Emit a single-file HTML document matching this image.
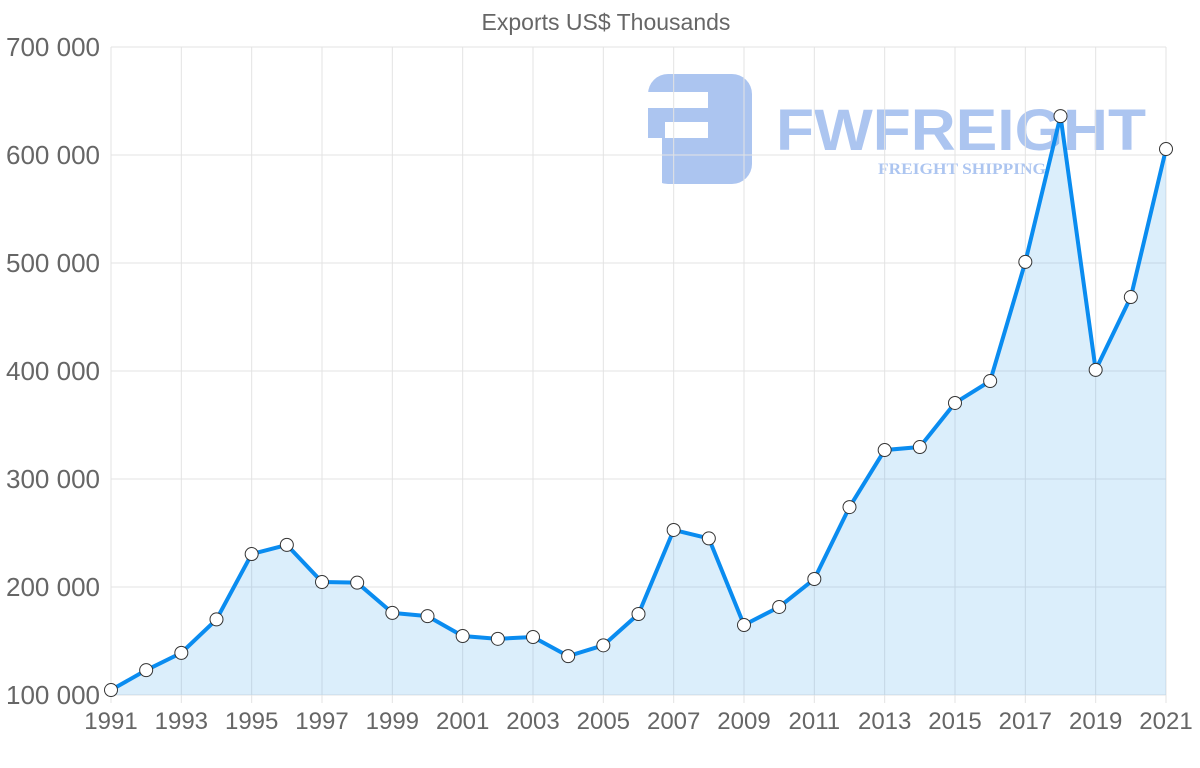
<!DOCTYPE html>
<html><head><meta charset="utf-8"><style>
html,body{margin:0;padding:0;background:#fff;}
svg text{font-family:"Liberation Sans",sans-serif;}
</style></head><body>
<svg id="chart" width="1200" height="763" xmlns="http://www.w3.org/2000/svg">
<text x="606" y="30" text-anchor="middle" font-size="23" fill="#666">Exports US$ Thousands</text>
<g opacity="0.45">
<rect x="648" y="74" width="104" height="110" rx="20" fill="#4a7fe0"/>
<rect x="648" y="92" width="60" height="16" fill="#fff"/>
<rect x="665" y="122" width="43" height="16" fill="#fff"/>
<rect x="648" y="138" width="14" height="46" fill="#fff"/>
<text x="776" y="150" font-size="58" font-weight="bold" fill="#4a7fe0" textLength="370" lengthAdjust="spacingAndGlyphs">FWFREIGHT</text>
<text x="878" y="174" font-size="16" font-weight="bold" fill="#4a7fe0" style="font-family:'Liberation Serif',serif" textLength="168" lengthAdjust="spacingAndGlyphs">FREIGHT SHIPPING</text>
</g>
<g id="grid"></g>
<g id="axes"></g>
<g id="series"></g>
</svg>
<script>
const years=[1991,1992,1993,1994,1995,1996,1997,1998,1999,2000,2001,2002,2003,2004,2005,2006,2007,2008,2009,2010,2011,2012,2013,2014,2015,2016,2017,2018,2019,2020,2021];
const exportsVals=[104600,123000,139000,170000,230500,239000,204600,204000,176000,173000,154600,152000,153700,136000,146000,175000,252800,245000,164800,181500,207400,274000,326800,329600,370400,390700,501000,636000,401000,468500,605500];
const yTicks=[100000,200000,300000,400000,500000,600000,700000];
const yTickLabels=["100 000","200 000","300 000","400 000","500 000","600 000","700 000"];
const NS="http://www.w3.org/2000/svg";
const X0=111,X1=1166,Y0=695,Y1=47;
function xs(yr){return X0+(yr-1991)/(2021-1991)*(X1-X0);}
function ys(v){return Y0-(v-100000)/600000*(Y0-Y1);}
function mk(t,a,p){const e=document.createElementNS(NS,t);for(const k in a)e.setAttribute(k,a[k]);p.appendChild(e);return e;}
const grid=document.getElementById('grid'),axes=document.getElementById('axes'),series=document.getElementById('series');
yTicks.forEach((v,i)=>{
 const l=mk('line',{x1:X0,x2:X1,y1:ys(v),y2:ys(v),stroke:'#e3e3e3','stroke-width':1},grid);
 
 
 const t=mk('text',{x:100,y:ys(v)+9,'text-anchor':'end','font-size':26,fill:'#666'},axes);
 t.textContent=yTickLabels[i];
 
 
});
years.forEach(yr=>{
 if((yr-1991)%2) return;
 const l=mk('line',{x1:xs(yr),x2:xs(yr),y1:Y1,y2:Y0+8,stroke:'#e3e3e3','stroke-width':1},grid);
 
 
 const t=mk('text',{x:xs(yr),y:729,'text-anchor':'middle','font-size':24,fill:'#666'},axes);
 t.textContent=yr;
 
 
});
const pts=years.map((yr,i)=>[xs(yr),ys(exportsVals[i])]);
const area=mk('path',{d:'M'+pts.map(p=>p.join(',')).join('L')+`L${X1},${Y0}L${X0},${Y0}Z`,fill:'rgba(54,162,235,0.18)'},series);


const line=mk('polyline',{points:pts.map(p=>p.join(',')).join(' '),fill:'none',stroke:'#0a8cf0','stroke-width':4,'stroke-linejoin':'round'},series);


pts.forEach(p=>{
 const c=mk('circle',{cx:p[0],cy:p[1],r:6.5,fill:'#fff',stroke:'#333','stroke-width':1},series);
 
 
});
</script>
</body></html>
